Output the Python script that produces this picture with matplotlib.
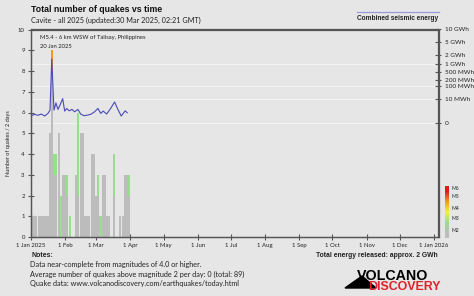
import numpy as np
import matplotlib
matplotlib.use('Agg')
import matplotlib.pyplot as plt
from matplotlib.transforms import blended_transform_factory
from matplotlib.patches import Polygon

plt.rcParams['font.family'] = ['Lato', 'DejaVu Sans']
BOLD = ['Liberation Sans', 'DejaVu Sans']

W, H = 474, 296
bg = '#e6e6e6'
spine_c = '#555555'

# 2-day bins from 1 Jan 2025, quakes per magnitude class
start = np.datetime64('2025-01-01')
bin_day = np.arange(0, 90, 2)
m2 = [1, 1, 1, 1, 1, 1, 1, 1, 5, 8, 3, 3, 5, 0, 3, 3, 2, 0, 0, 0, 3, 2, 5, 5, 1,
      1, 1, 4, 4, 2, 2, 0, 3, 3, 1, 1, 0, 2, 0, 0, 1, 1, 3, 3, 2]
m3 = [0, 0, 0, 0, 0, 0, 0, 0, 0, 0, 1, 1, 0, 2, 0, 0, 1, 1, 0, 0, 0, 4, 0, 0, 0,
      0, 0, 0, 0, 0, 1, 1, 0, 0, 0, 0, 0, 2, 0, 0, 0, 0, 0, 0, 1]
m4 = [0] * 45
m5 = [0] * 9 + [1] + [0] * 35
m6 = [0] * 45
mag_colors = ['#bcbcbc', '#96e08c', '#f4f040', '#f39a1e', '#d81f1f']
mag_labels = ['M2', 'M3', 'M4', 'M5', 'M6']

# combined seismic energy (MWh)
energy_day = [0.3, 3.3, 6.3, 9.3, 12.4, 15.4, 17.2, 18.8, 20.8, 22.6, 24.4, 26.2,
              28.7, 30.5, 32.3, 34.7, 37.1, 39.5, 42.5, 45, 48, 51.6, 54.6, 57.6,
              60.6, 63.1, 65.4, 68.5, 72.1, 75.7, 78.7, 81.7, 85.3, 87.1]
energy_mwh = [0.027, 0.064, 0.035, 0.076, 0.022, 0.11, 0.48, 1500, 0.48, 4.4, 0.62,
              2.4, 11.8, 0.32, 0.88, 0.36, 0.62, 0.24, 0.62, 0.076, 0.027, 0.042,
              0.076, 0.24, 0.88, 0.11, 0.32, 0.076, 0.88, 5.6, 0.62, 0.022, 0.36, 0.15]
energy_ticks = [10000, 5000, 2000, 1000, 500, 200, 100, 10, 0]
energy_labels = ['10 GWh', '5 GWh', '2 GWh', '1 GWh', '500 MWh', '200 MWh',
                 '100 MWh', '10 MWh', '0']
grid_energy = [1000, 100, 10, 0]

months = np.arange('2025-01', '2026-02', dtype='datetime64[M]').astype('datetime64[D]')
month_pos = (months - start).astype(int)
month_labels = ['1 Jan 2025', '1 Feb', '1 Mar', '1 Apr', '1 May', '1 Jun', '1 Jul',
                '1 Aug', '1 Sep', '1 Oct', '1 Nov', '1 Dec', '1 Jan 2026']


def px(x, y):
    return x / W, 1 - y / H


fig = plt.figure(figsize=(W / 100, H / 100), dpi=100, facecolor=bg)
ax = fig.add_axes([31 / W, 1 - 237 / H, 407.5 / W, 207.5 / H])
ax.set_facecolor(bg)

bottom = np.zeros(len(bin_day))
for vals, col in zip([m2, m3, m4, m5, m6], mag_colors):
    vals = np.array(vals, dtype=float)
    ax.bar(bin_day, vals, width=1.85, bottom=bottom, align='edge', color=col,
           linewidth=0, zorder=2)
    bottom += vals

ax.set_xlim(0, 369)
ax.set_ylim(0, 10)
ax.set_yticks(range(11))
ax.set_xticks(month_pos)
ax.set_xticklabels(month_labels)
ax.tick_params(direction='inout', length=5, width=0.8, color=spine_c,
               labelsize=4.3, pad=2, labelcolor='#222222')
for s in ax.spines.values():
    s.set_color(spine_c)
    s.set_linewidth(0.9)


def fwd(e):
    e = np.asarray(e, dtype=float)
    return np.sign(e) * np.abs(e) ** 0.2


def inv(v):
    v = np.asarray(v, dtype=float)
    return np.sign(v) * np.abs(v) ** 5


ax2 = ax.twinx()
ax2.set_yscale('function', functions=(fwd, inv))
ax2.set_ylim(float(inv(-7.71)), 10000)
ax2.set_yticks(energy_ticks)
ax2.set_yticklabels(energy_labels)
ax2.tick_params(direction='inout', length=5, width=0.8, color=spine_c,
                labelsize=4.6, pad=2, labelcolor='#222222')
ax2.yaxis.set_minor_locator(matplotlib.ticker.NullLocator())
for s in ax2.spines.values():
    s.set_color(spine_c)
    s.set_linewidth(0.9)

tr = blended_transform_factory(ax.transAxes, ax2.transData)
for e in grid_energy:
    ax.plot([0, 1], [e, e], transform=tr, color='#f3f3f3', lw=0.8, zorder=1)

ax2.plot(energy_day, energy_mwh, color='#4a4ab8', lw=0.8)

# texts
fig.text(*px(31, 12), 'Total number of quakes vs time', fontsize=6.3,
         fontweight='bold', family=BOLD, color='#111111')
fig.text(*px(31, 23), 'Cavite - all 2025 (updated:30 Mar 2025, 02:21 GMT)',
         fontsize=5.2, color='#222222')
fig.text(*px(40, 39.5), 'M5.4 - 6 km WSW of Talisay, Philippines', fontsize=4.2,
         color='#222222')
fig.text(*px(40, 48), '20 Jan 2025', fontsize=4.2, color='#222222')
fig.text(*px(9, 143), 'Number of quakes / 2 days', fontsize=4, rotation=90,
         ha='center', va='center', color='#222222')

fig.add_artist(plt.Line2D([357 / W, 439 / W], [1 - 11.5 / H, 1 - 11.5 / H],
                          color='#9a9ad8', lw=0.9))
fig.text(*px(357, 20), 'Combined seismic energy', fontsize=4.7,
         fontweight='bold', family=BOLD, color='#222222')

fig.text(*px(31, 257), 'Notes:', fontsize=5, fontweight='bold', family=BOLD,
         color='#222222')
notes = ['Data near-complete from magnitudes of 4.0 or higher.',
         'Average number of quakes above magnitude 2 per day: 0 (total: 89)',
         'Quake data: www.volcanodiscovery.com/earthquakes/today.html']
for i, line in enumerate(notes):
    fig.text(*px(30, 267 + 9.5 * i), line, fontsize=5.25, color='#222222')
fig.text(*px(438, 257), 'Total energy released: approx. 2 GWh', fontsize=4.9,
         fontweight='bold', family=BOLD, ha='right', color='#222222')

# magnitude legend
lax = fig.add_axes([445 / W, 1 - 238 / H, 4 / W, 52 / H])
img = np.array([matplotlib.colors.to_rgb(c) for c in mag_colors[::-1]])[:, None, :]
lax.imshow(img, aspect='auto', interpolation='bilinear')
lax.axis('off')
for lab, y in zip(mag_labels[::-1], [189, 197, 208, 219, 231]):
    fig.text(*px(452, y), lab, fontsize=3.6, va='center', color='#222222')

# logo
fig.add_artist(Polygon([px(345, 288), px(362, 276), px(376, 288)], closed=True,
                       transform=fig.transFigure, color='black'))
fig.text(*px(357, 279.5), 'VOLCANO', fontsize=10.3, fontweight='heavy',
         family=['Liberation Sans', 'DejaVu Sans'], color='black')
fig.text(*px(368, 290), 'DISCOVERY', fontsize=8.9, fontweight='bold',
         family=['Liberation Sans', 'DejaVu Sans'], color='#e0202a')

fig.savefig('out.png', dpi=100, facecolor=bg)
